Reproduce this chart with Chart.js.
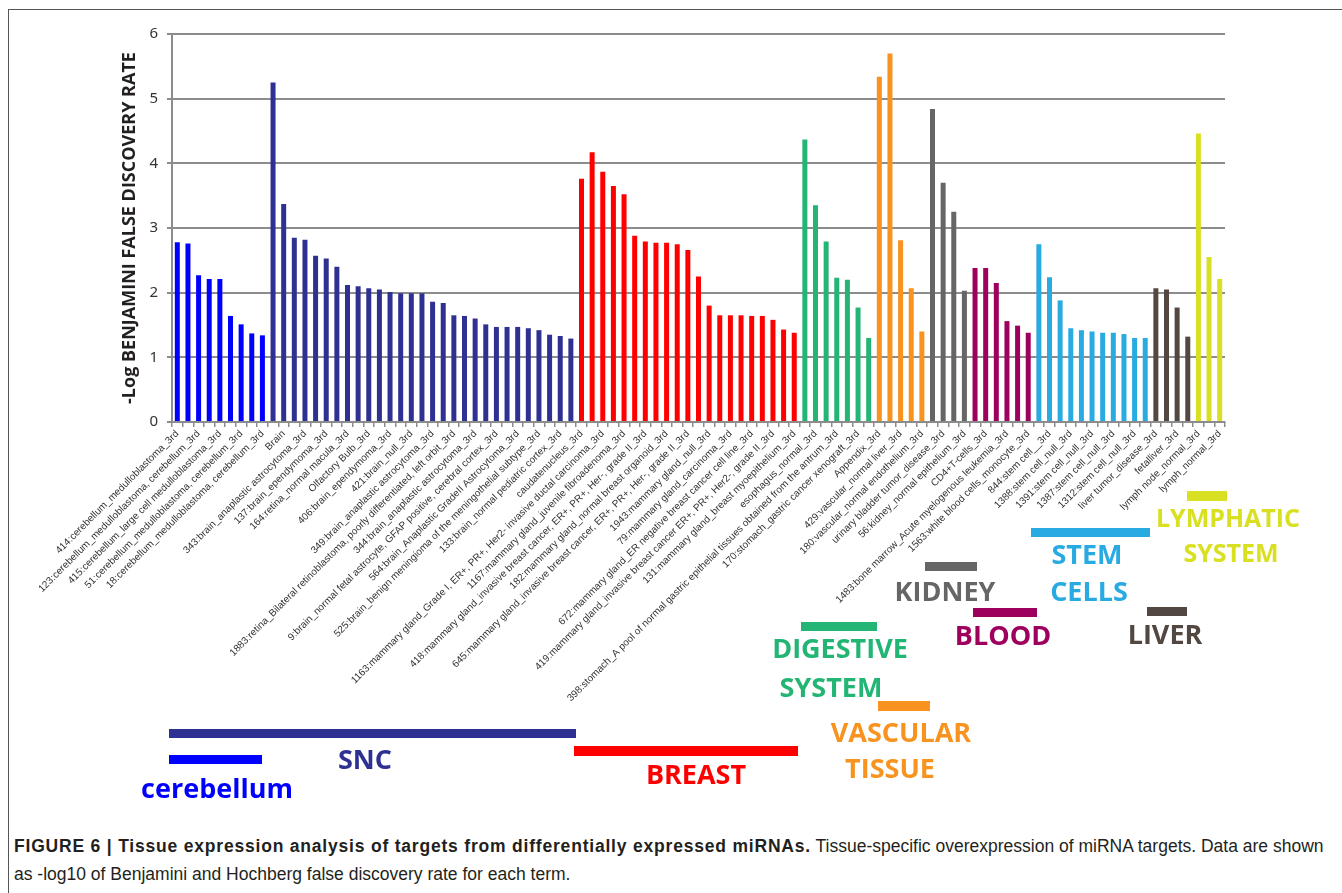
<!DOCTYPE html>
<html>
<head>
<meta charset="utf-8">
<script src="https://cdn.jsdelivr.net/npm/chart.js@4.4.1/dist/chart.umd.min.js"></script>
<style>
  html, body { margin: 0; padding: 0; background: #fff; }
  #wrap { position: relative; width: 1342px; height: 893px; overflow: hidden; background: #fff; }
  #frame { position: absolute; left: 8px; top: 9px; width: 1400px; height: 1000px;
           border-left: 1px solid #555; border-top: 1px solid #555; }
  #chart { position: absolute; left: 0; top: 0; }
  .tag { position: absolute; font-family: 'Open Sans', sans-serif; font-weight: 700; font-size: 27px;
         line-height: 1; white-space: nowrap; transform: translate(-50%, -50%); }
  .tagbar { position: absolute; }
  #caption { position: absolute; left: 14px; top: 832px; font-family: 'Liberation Sans', Arial, sans-serif; font-size: 17.5px;
             color: #231f20; line-height: 28px; white-space: nowrap; }
  #caption b { letter-spacing: 0.8px; }
</style>
</head>
<body>
<div id="wrap">
  <div id="frame"></div>
  <canvas id="chart" width="1342" height="830"></canvas>
  <div id="tags"></div>
  <div id="caption"><b>FIGURE 6 | Tissue expression analysis of targets from differentially expressed miRNAs.</b> Tissue-specific overexpression of miRNA targets. Data are shown<br>as -log10 of Benjamini and Hochberg false discovery rate for each term.</div>
</div>
<script>
// values, one array per tissue group (left to right)
const cerebellum = [2.78, 2.76, 2.27, 2.21, 2.21, 1.64, 1.51, 1.37, 1.34];
const snc = [5.25, 3.37, 2.85, 2.82, 2.57, 2.53, 2.40, 2.12, 2.10, 2.07, 2.05, 2.01, 1.99, 1.99, 1.99,
             1.86, 1.84, 1.65, 1.64, 1.60, 1.51, 1.47, 1.47, 1.47, 1.45, 1.42, 1.35, 1.33, 1.29];
const breast = [3.76, 4.17, 3.87, 3.65, 3.52, 2.88, 2.79, 2.77, 2.77, 2.75, 2.66, 2.25, 1.80, 1.65, 1.65,
                1.65, 1.64, 1.64, 1.58, 1.43, 1.38];
const digestive = [4.37, 3.35, 2.79, 2.23, 2.20, 1.77, 1.30];
const vascular = [5.34, 5.70, 2.81, 2.07, 1.40];
const kidney = [4.84, 3.70, 3.25, 2.03];
const blood = [2.38, 2.38, 2.15, 1.56, 1.49, 1.38];
const stemCells = [2.75, 2.24, 1.88, 1.45, 1.42, 1.40, 1.38, 1.38, 1.36, 1.30, 1.30];
const liver = [2.07, 2.05, 1.77, 1.32];
const lymphatic = [4.46, 2.55, 2.21];

// only every other category name is printed in the figure
const shownLabels = [
  '414:cerebellum_medulloblastoma_3rd',
  '123:cerebellum_medulloblastoma, cerebellum_3rd',
  '415:cerebellum_large cell medulloblastoma_3rd',
  '51:cerebellum_medulloblastoma, cerebellum_3rd',
  '18:cerebellum_medulloblastoma, cerebellum_3rd',
  'Brain',
  '343:brain_anaplastic astrocytoma_3rd',
  '137:brain_ependymoma_3rd',
  '164:retina_normal macula_3rd',
  'Olfactory Bulb_3rd',
  '406:brain_ependymoma_3rd',
  '421:brain_null_3rd',
  '349:brain_anaplastic astrocytoma_3rd',
  '1883:retina_Bilateral retinoblastoma, poorly differentiated, left orbit_3rd',
  '344:brain_anaplastic astrocytoma_3rd',
  '9:brain_normal fetal astrocyte, GFAP positive, cerebral cortex_3rd',
  '564:brain_Anaplastic GradeII Astrocytoma_3rd',
  '525:brain_benign meningioma of the meningothelial subtype_3rd',
  '133:brain_normal pediatric cortex_3rd',
  'caudatenucleus_3rd',
  '1163:mammary gland_Grade I, ER+, PR+, Her2- invasive ductal carcinoma_3rd',
  '1167:mammary gland_juvenile fibroadenoma_3rd',
  '418:mammary gland_invasive breast cancer, ER+, PR+, Her-, grade II_3rd',
  '182:mammary gland_normal breast organoid_3rd',
  '645:mammary gland_invasive breast cancer, ER+, PR+, Her-, grade II_3rd',
  '1943:mammary gland_null_3rd',
  '79:mammary gland_carcinoma_3rd',
  '672:mammary gland_ER negative breast cancer cell line_3rd',
  '419:mammary gland_invasive breast cancer ER+, PR+, Her2-, grade II_3rd',
  '131:mammary gland_breast myoepithelium_3rd',
  'esophagus_normal_3rd',
  '398:stomach_A pool of normal gastric epithelial tissues obtained from the antrum_3rd',
  '170:stomach_gastric cancer xenograft_3rd',
  'Appendix_3rd',
  '429:vascular_normal liver_3rd',
  '180:vascular_normal endothelium_3rd',
  'urinary bladder tumor_disease_3rd',
  '56:kidney_normal epithelium_3rd',
  'CD4+T-cells_3rd',
  '1483:bone marrow_Acute myelogenous leukemia_3rd',
  '1563:white blood cells_monocyte_3rd',
  '844:stem cell__3rd',
  '1388:stem cell_null_3rd',
  '1391:stem cell_null_3rd',
  '1387:stem cell_null_3rd',
  '1312:stem cell_null_3rd',
  'liver tumor_disease_3rd',
  'fetalliver_3rd',
  'lymph node_normal_3rd',
  'lymph_normal_3rd'
];

const groups = [
  { values: cerebellum, color: '#0000ff' },
  { values: snc, color: '#2e3192' },
  { values: breast, color: '#ff0000' },
  { values: digestive, color: '#22b573' },
  { values: vascular, color: '#f7931e' },
  { values: kidney, color: '#666666' },
  { values: blood, color: '#9e005d' },
  { values: stemCells, color: '#29abe2' },
  { values: liver, color: '#534741' },
  { values: lymphatic, color: '#d9e021' }
];

const values = [];
const colors = [];
groups.forEach(g => g.values.forEach(v => { values.push(v); colors.push(g.color); }));
const categories = values.map((v, i) => (i % 2 === 0 ? (shownLabels[i / 2] || '') : ''));

// group captions under the axis: [text lines, colour, marker bar, text centres]
const groupTags = [
  { lines: ['SNC'], color: '#2e3192', bar: [169, 729, 576, 738], pos: [[365, 758]] },
  { lines: ['cerebellum'], color: '#0000ff', bar: [169, 755, 262, 764], pos: [[217, 787]] },
  { lines: ['BREAST'], color: '#ff0000', bar: [574, 746, 798, 756], pos: [[696, 773]] },
  { lines: ['DIGESTIVE', 'SYSTEM'], color: '#22b573', bar: [801, 622, 877, 631], pos: [[840, 647], [831, 686]] },
  { lines: ['VASCULAR', 'TISSUE'], color: '#f7931e', bar: [878, 701, 930, 711], pos: [[901, 731], [890, 767]] },
  { lines: ['KIDNEY'], color: '#666666', bar: [925, 562, 977, 571], pos: [[945, 590]] },
  { lines: ['BLOOD'], color: '#9e005d', bar: [973, 608, 1037, 617], pos: [[1003, 634]] },
  { lines: ['STEM', 'CELLS'], color: '#29abe2', bar: [1031, 528, 1150, 537], pos: [[1087, 553], [1089, 590]] },
  { lines: ['LIVER'], color: '#534741', bar: [1147, 607, 1187, 616], pos: [[1165, 633]] },
  { lines: ['LYMPHATIC', 'SYSTEM'], color: '#d9e021', bar: [1187, 491, 1227, 501], pos: [[1228, 517], [1231, 552]] }
];

const tagBox = document.getElementById('tags');
groupTags.forEach(t => {
  const b = document.createElement('div');
  b.className = 'tagbar';
  b.style.left = t.bar[0] + 'px';
  b.style.top = t.bar[1] + 'px';
  b.style.width = (t.bar[2] - t.bar[0]) + 'px';
  b.style.height = (t.bar[3] - t.bar[1]) + 'px';
  b.style.background = t.color;
  tagBox.appendChild(b);
  t.lines.forEach((txt, k) => {
    const d = document.createElement('div');
    d.className = 'tag';
    d.textContent = txt;
    d.style.color = t.color;
    d.style.left = t.pos[k][0] + 'px';
    d.style.top = t.pos[k][1] + 'px';
    if (t.color === '#d9e021') d.style.fontSize = '25px';
    tagBox.appendChild(d);
  });
});

const axisGray = '#8c8c8c';

new Chart(document.getElementById('chart'), {
  type: 'bar',
  data: {
    labels: categories,
    datasets: [{
      data: values,
      backgroundColor: colors,
      borderWidth: 0,
      categoryPercentage: 1.0,
      barPercentage: 0.47
    }]
  },
  options: {
    responsive: false,
    animation: false,
    layout: { padding: { left: 0, top: 34, right: 117, bottom: 0 } },
    plugins: { legend: { display: false }, tooltip: { enabled: false } },
    scales: {
      x: {
        grid: { drawOnChartArea: false, color: axisGray, lineWidth: 1.5, tickLength: 5 },
        border: { color: axisGray, width: 2 },
        ticks: {
          autoSkip: false,
          minRotation: 45,
          maxRotation: 45,
          padding: 1,
          color: '#333333',
          font: { family: "'Liberation Sans Narrow', 'Liberation Sans', sans-serif", size: 10 }
        },
        afterFit: function(scale) { scale.height = 830 - 422; }
      },
      y: {
        min: 0,
        max: 6,
        ticks: {
          stepSize: 1,
          padding: 9,
          color: '#333333',
          font: { family: "'Noto Sans', sans-serif", size: 15 }
        },
        grid: { color: axisGray, lineWidth: 2, tickLength: 5 },
        border: { color: axisGray, width: 2 },
        title: {
          display: true,
          text: '-Log BENJAMINI FALSE DISCOVERY RATE',
          color: '#231f20',
          font: { family: "'Open Sans', sans-serif", weight: 'bold', size: 18 },
          padding: { top: 119, bottom: 0 }
        },
        afterFit: function(scale) { scale.width = 172; }
      }
    }
  }
});
</script>
</body>
</html>
